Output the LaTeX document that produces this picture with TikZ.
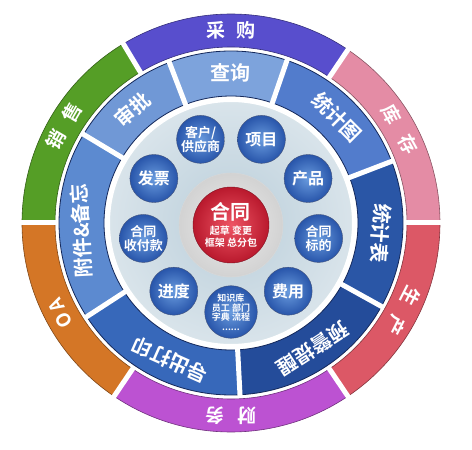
\documentclass[tikz,border=0pt]{standalone}
\usepackage{fontspec}
\setmainfont{Noto Sans CJK SC}[BoldFont={Noto Sans CJK SC Bold}]
\usepackage{tikz}
\definecolor{cbuy}{RGB}{88,78,205}
\definecolor{cstock}{RGB}{228,140,165}
\definecolor{cmake}{RGB}{220,88,102}
\definecolor{cfin}{RGB}{188,82,210}
\definecolor{coa}{RGB}{212,118,38}
\definecolor{csell}{RGB}{85,158,38}
\definecolor{cquery}{RGB}{125,163,220}
\definecolor{capprove}{RGB}{112,152,214}
\definecolor{cattach}{RGB}{92,138,208}
\definecolor{cchart}{RGB}{82,124,204}
\definecolor{cexport}{RGB}{55,104,186}
\definecolor{ctable}{RGB}{42,86,166}
\definecolor{cwarn}{RGB}{36,76,154}
\definecolor{cedge}{RGB}{20,40,90}
\definecolor{cdisc}{RGB}{186,206,218}
\definecolor{cballin}{RGB}{105,155,222}
\definecolor{cballout}{RGB}{40,85,170}
\definecolor{credin}{RGB}{238,85,100}
\definecolor{credout}{RGB}{185,25,45}
\tikzstyle{gap}=[white,line width=5pt]
\tikzstyle{ringtext}=[text=white,inner sep=0pt,font=\bfseries\fontsize{19}{19}\selectfont]
\tikzstyle{midtext}=[text=white,inner sep=0pt,font=\bfseries\fontsize{20}{20}\selectfont]
\tikzstyle{bubble}=[circle,shading=radial,inner color=cballin,outer color=cballout,draw=cedge!80,minimum size=48pt,inner sep=0pt,text=white,align=center]
\tikzstyle{oneline}=[font=\bfseries\fontsize{16}{18}\selectfont]
\tikzstyle{twoline}=[font=\bfseries\fontsize{13}{14}\selectfont]
\tikzstyle{fourline}=[font=\bfseries\fontsize{9}{9.5}\selectfont,minimum size=52pt]

\begin{document}
\begin{tikzpicture}
\useasboundingbox (-231pt,-227pt) rectangle (241pt,223pt);

% First we draw the outer ring
\foreach \a/\b/\col in {56/121/cbuy, 0/56/cstock, -56/0/cmake, -124/-56/cfin, 180/236/coa, 121/180/csell}
\filldraw[fill=\col, draw=\col!60!black, line width=0.6pt] (\a:209pt) arc (\a:\b:209pt) -- (\b:176pt) arc (\b:\a:176pt) -- cycle;
\foreach \g in {0,56,121,180,236,304}
\draw[gap] (\g:173pt) -- (\g:212pt);

% Then the blue ring
\foreach \a/\b/\col in {71/111/cquery, 111/149/capprove, 149/213/cattach, 213/273/cexport, 273/331/cwarn, -29/21/ctable, 21/71/cchart}
\filldraw[fill=\col, draw=cedge, line width=0.8pt] (\a:172pt) arc (\a:\b:172pt) -- (\b:127pt) arc (\b:\a:127pt) -- cycle;
\foreach \g in {21,71,111,149,213,273,331}
\draw[gap] (\g:124pt) -- (\g:175pt);

% Labels on both rings
\foreach \ang/\name/\txt in {90/buy/{采\hspace{11pt}购}, 29/stock/{库\hspace{15pt}存}, -27/make/{生\hspace{13pt}产},
                             -90/finance/{财\hspace{13pt}务}, 208/oa/{O\hspace{3pt}A}, 150/sell/{销\hspace{12pt}售}}
\node[ringtext, rotate=\ang-90] (\name) at (\ang:193pt) {\txt};
\foreach \ang/\name/\txt in {90/query/查询, 131/approve/审批, 183/attach/附件\&备忘, 246/export/导出打印,
                             303/warn/预警提醒, -4/table/统计表, 45/chart/统计图}
\node[midtext, rotate=\ang-90] (\name) at (\ang:150pt) {\txt};

% Inner disc and the contract in the middle
\node[circle, minimum size=244pt, shading=radial, inner color=cdisc, outer color=cdisc!55!white, draw=white, line width=2pt] (disc) at (0,0) {};
\node[circle, minimum size=104pt, shading=radial, inner color=white!85!gray, outer color=gray!35, draw=gray!30] (halo) at (0,-2pt) {};
\node[circle, shading=radial, inner color=credin, outer color=credout, draw=credout!70!black, minimum size=76pt, inner sep=0pt, text=white, align=center, font=\bfseries]
  (contract) at (0,-2pt) {{\fontsize{20}{22}\selectfont 合同}\\[3pt]{\fontsize{10}{12}\selectfont 起草 变更}\\{\fontsize{10}{12}\selectfont 框架 总分包}};

% Bubbles around it
\foreach \ang/\name/\sty/\txt in {110/client/twoline/{客户/\\供应商}, 70/project/oneline/项目, 30/product/oneline/产品,
                                  -10/target/twoline/{合同\\标的}, -50/cost/oneline/费用, -90/know/fourline/{知识库\\员工 部门\\字典 流程\\......},
                                  -130/progress/oneline/进度, -170/pay/twoline/{合同\\收付款}, 150/invoice/oneline/发票}
\node[bubble, \sty] (\name) at (\ang:89pt) {\txt};
\end{tikzpicture}
\end{document}
